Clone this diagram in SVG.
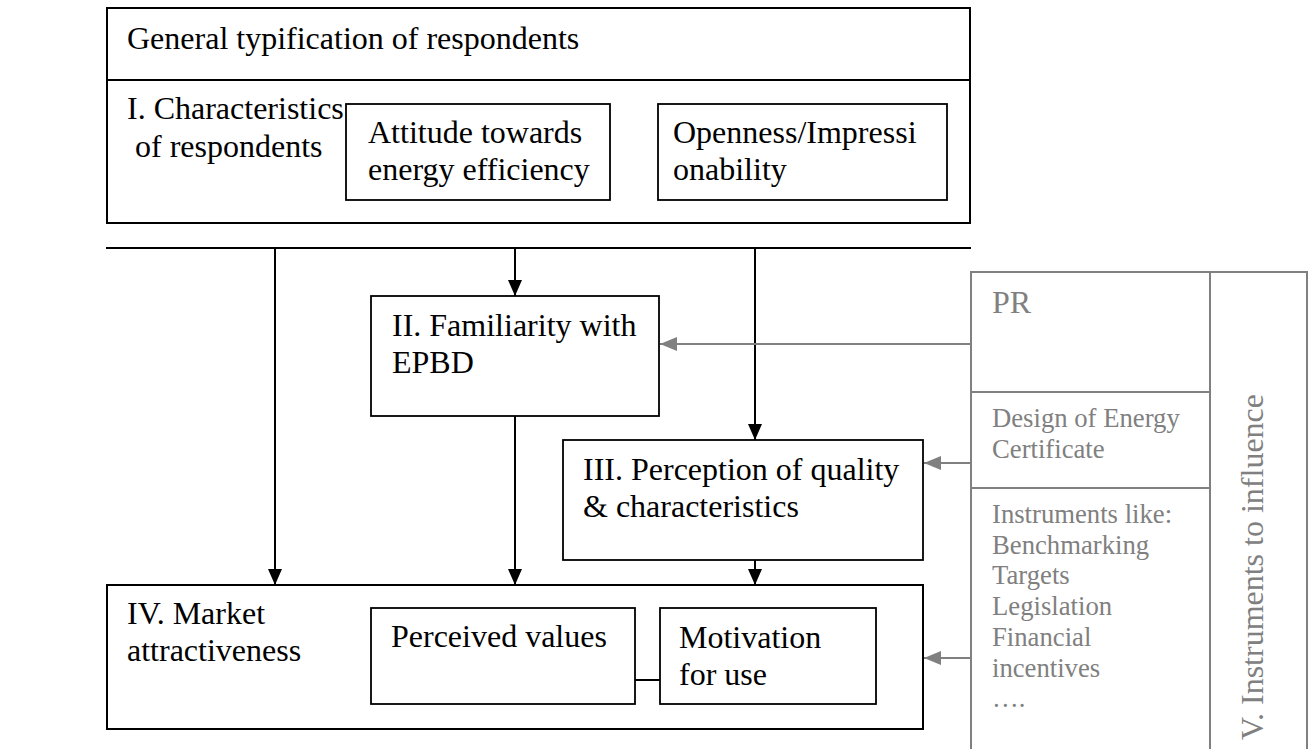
<svg xmlns="http://www.w3.org/2000/svg" width="1313" height="749" viewBox="0 0 1313 749">
<style>
.t{font-family:"Liberation Serif","Times New Roman",serif;font-size:32px;fill:#000}
.g{font-family:"Liberation Serif","Times New Roman",serif;fill:#808080}
.box{fill:#fff;stroke:#000;stroke-width:2}
.ibox{fill:#fff;stroke:#000;stroke-width:1.8}
.gbox{fill:none;stroke:#808080;stroke-width:2}
.ln{stroke:#000;stroke-width:2;fill:none}
.gln{stroke:#808080;stroke-width:2;fill:none}
</style>
<defs>
<marker id="ab" markerUnits="userSpaceOnUse" markerWidth="16" markerHeight="14" refX="16" refY="7" orient="auto">
<path d="M0,0 L16,7 L0,14 Z" fill="#000"/>
</marker>
<marker id="ag" markerUnits="userSpaceOnUse" markerWidth="17" markerHeight="14" refX="17" refY="7" orient="auto">
<path d="M0,0 L17,7 L0,14 Z" fill="#808080"/>
</marker>
</defs>
<rect width="1313" height="749" fill="#fff"/>

<g id="top-box">
<rect class="box" x="107" y="8" width="863" height="215"/>
<line class="ln" x1="107" y1="80" x2="970" y2="80"/>
<text class="t" x="127" y="49">General typification of respondents</text>
<text class="t" x="127" y="119">I. Characteristics</text>
<text class="t" x="135" y="157">of respondents</text>
</g>
<g id="attitude">
<rect class="ibox" x="346" y="104" width="264" height="96"/>
<text class="t" x="368" y="143">Attitude towards</text>
<text class="t" x="368" y="180">energy efficiency</text>
</g>
<g id="openness">
<rect class="ibox" x="658" y="104" width="289" height="96"/>
<text class="t" x="673" y="143">Openness/Impressi</text>
<text class="t" x="673" y="180">onability</text>
</g>

<g id="familiarity">
<rect class="ibox" x="371" y="296" width="288" height="120"/>
<text class="t" x="392" y="336">II. Familiarity with</text>
<text class="t" x="392" y="373">EPBD</text>
</g>
<g id="perception">
<rect class="ibox" x="563" y="440" width="360" height="120"/>
<text class="t" x="583" y="480">III. Perception of quality</text>
<text class="t" x="583" y="517">&amp; characteristics</text>
</g>
<g id="market">
<rect class="box" x="107" y="585" width="816" height="144"/>
<text class="t" x="127" y="624">IV. Market</text>
<text class="t" x="127" y="661">attractiveness</text>
</g>
<g id="perceived">
<rect class="ibox" x="371" y="608" width="264" height="96"/>
<text class="t" x="391" y="647">Perceived values</text>
</g>
<g id="motivation">
<rect class="ibox" x="660" y="608" width="216" height="96"/>
<text class="t" x="679" y="648">Motivation</text>
<text class="t" x="679" y="685">for use</text>
</g>

<g id="instruments">
<rect class="gbox" x="971" y="272" width="336" height="490"/>
<line class="gln" x1="1210" y1="272" x2="1210" y2="760"/>
<line class="gln" x1="971" y1="392" x2="1210" y2="392"/>
<line class="gln" x1="971" y1="488" x2="1210" y2="488"/>
<text class="g" x="992" y="313" font-size="32">PR</text>
<text class="g" x="992" y="427" font-size="26.7">Design of Energy</text>
<text class="g" x="992" y="458" font-size="26.7">Certificate</text>
<text class="g" font-size="26.7">
<tspan x="992" y="523">Instruments like:</tspan>
<tspan x="992" y="553.7">Benchmarking</tspan>
<tspan x="992" y="584.4">Targets</tspan>
<tspan x="992" y="615.1">Legislation</tspan>
<tspan x="992" y="645.8">Financial</tspan>
<tspan x="992" y="676.5">incentives</tspan>
<tspan x="992" y="707.2">….</tspan>
</text>
<text class="g" font-size="32" transform="translate(1263,740) rotate(-90)">V. Instruments to influence</text>
</g>

<g id="connectors">
<line class="ln" x1="106" y1="248" x2="971" y2="248"/>
<line class="ln" x1="275" y1="248" x2="275" y2="585" marker-end="url(#ab)"/>
<line class="ln" x1="515" y1="248" x2="515" y2="296" marker-end="url(#ab)"/>
<line class="ln" x1="515" y1="416" x2="515" y2="585" marker-end="url(#ab)"/>
<line class="ln" x1="755" y1="248" x2="755" y2="440" marker-end="url(#ab)"/>
<line class="ln" x1="755" y1="560" x2="755" y2="585" marker-end="url(#ab)"/>
<line class="ln" x1="635" y1="680" x2="660" y2="680"/>
<line class="gln" x1="971" y1="344" x2="660" y2="344" marker-end="url(#ag)"/>
<line class="gln" x1="971" y1="463" x2="924" y2="463" marker-end="url(#ag)"/>
<line class="gln" x1="971" y1="658" x2="924" y2="658" marker-end="url(#ag)"/>
</g>
</svg>
